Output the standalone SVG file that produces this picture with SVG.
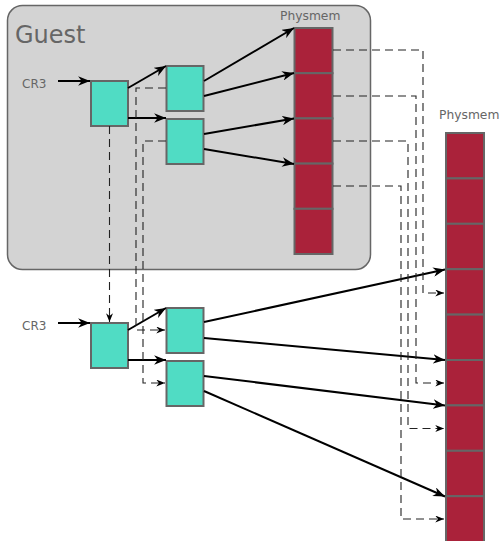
<svg xmlns="http://www.w3.org/2000/svg" width="503" height="541" viewBox="0 0 503 541">
<defs>
<style>
.lbl{font-family:"DejaVu Sans",sans-serif;fill:#666}
.pte{fill:#50dcc4;stroke:#666;stroke-width:2}
.mem{fill:#aa223a;stroke:#666;stroke-width:2}
.sol{fill:none;stroke:#000;stroke-width:2;marker-end:url(#ah)}
.dsh{fill:none;stroke:#222;stroke-width:1.1;stroke-dasharray:8,5;marker-end:url(#dh)}
</style>
<marker id="ah" viewBox="0 0 10 8" refX="10" refY="4" markerWidth="12" markerHeight="9.5" orient="auto" markerUnits="userSpaceOnUse"><path d="M0,0 L10,4 L0,8 L3,4 z" fill="#000"/></marker>
<marker id="dh" viewBox="0 0 10 8" refX="10" refY="4" markerWidth="9" markerHeight="7" orient="auto" markerUnits="userSpaceOnUse"><path d="M0,0 L10,4 L0,8 L3,4 z" fill="#000"/></marker>
</defs>
<rect width="503" height="541" fill="#fff"/>
<g id="guest">
<rect x="7.5" y="5.5" width="363" height="264" rx="15" fill="#d3d3d3" stroke="#666" stroke-width="1.5"/>
<text class="lbl" x="15" y="43" font-size="24">Guest</text>
</g>
<g id="guest-cr3"><text class="lbl" x="22" y="88" font-size="12">CR3</text></g>
<g id="guest-l1"><rect class="pte" x="91" y="81" width="37" height="45"/></g>
<g id="guest-l2a"><rect class="pte" x="166.5" y="66" width="37" height="45"/></g>
<g id="guest-l2b"><rect class="pte" x="166.5" y="119" width="37" height="45"/></g>
<g id="guest-physmem">
<text class="lbl" x="280" y="20" font-size="12.3">Physmem</text>
<rect class="mem" x="294.5" y="28" width="38" height="45.2"/>
<rect class="mem" x="294.5" y="73.2" width="38" height="45.2"/>
<rect class="mem" x="294.5" y="118.4" width="38" height="45.2"/>
<rect class="mem" x="294.5" y="163.6" width="38" height="45.2"/>
<rect class="mem" x="294.5" y="208.8" width="38" height="45.2"/>
</g>
<g id="host-cr3"><text class="lbl" x="22" y="330" font-size="12">CR3</text></g>
<g id="host-l1"><rect class="pte" x="91" y="323" width="37" height="45"/></g>
<g id="host-l2a"><rect class="pte" x="166.5" y="308" width="37" height="45"/></g>
<g id="host-l2b"><rect class="pte" x="166.5" y="361" width="37" height="45"/></g>
<g id="host-physmem">
<text class="lbl" x="439" y="119" font-size="12.3">Physmem</text>
<rect class="mem" x="446" y="133" width="38" height="45.4"/>
<rect class="mem" x="446" y="178.4" width="38" height="45.4"/>
<rect class="mem" x="446" y="223.8" width="38" height="45.4"/>
<rect class="mem" x="446" y="269.2" width="38" height="45.4"/>
<rect class="mem" x="446" y="314.6" width="38" height="45.4"/>
<rect class="mem" x="446" y="360" width="38" height="45.4"/>
<rect class="mem" x="446" y="405.4" width="38" height="45.4"/>
<rect class="mem" x="446" y="450.8" width="38" height="45.4"/>
<rect class="mem" x="446" y="496.2" width="38" height="50"/>
</g>
<g id="connectors">
<path class="sol" d="M58,81 L90,81"/>
<path class="sol" d="M128,88 L166,66"/>
<path class="sol" d="M128,118 L166,118"/>
<path class="sol" d="M204,81 L294,28"/>
<path class="sol" d="M204,96 L294,73"/>
<path class="sol" d="M204,134 L294,118.5"/>
<path class="sol" d="M204,149 L294,164"/>
<path class="sol" d="M58,323 L90,323"/>
<path class="sol" d="M128,330 L166,308"/>
<path class="sol" d="M128,360 L166,360"/>
<path class="sol" d="M204,322 L445,269.5"/>
<path class="sol" d="M204,338 L445,360"/>
<path class="sol" d="M204,376 L445,405.5"/>
<path class="sol" d="M204,391 L445,496.5"/>
<path class="dsh" d="M109.5,126 L109.5,322"/>
<path class="dsh" d="M166,88 L136,88 L136,330 L165,330"/>
<path class="dsh" d="M166,141 L143,141 L143,383 L165,383"/>
<path class="dsh" d="M333,50 L423,50 L423,293 L444,293"/>
<path class="dsh" d="M333,96 L416,96 L416,383 L444,383"/>
<path class="dsh" d="M333,141 L408,141 L408,428.5 L444,428.5"/>
<path class="dsh" d="M333,186 L401,186 L401,519 L444,519"/>
</g>
</svg>
